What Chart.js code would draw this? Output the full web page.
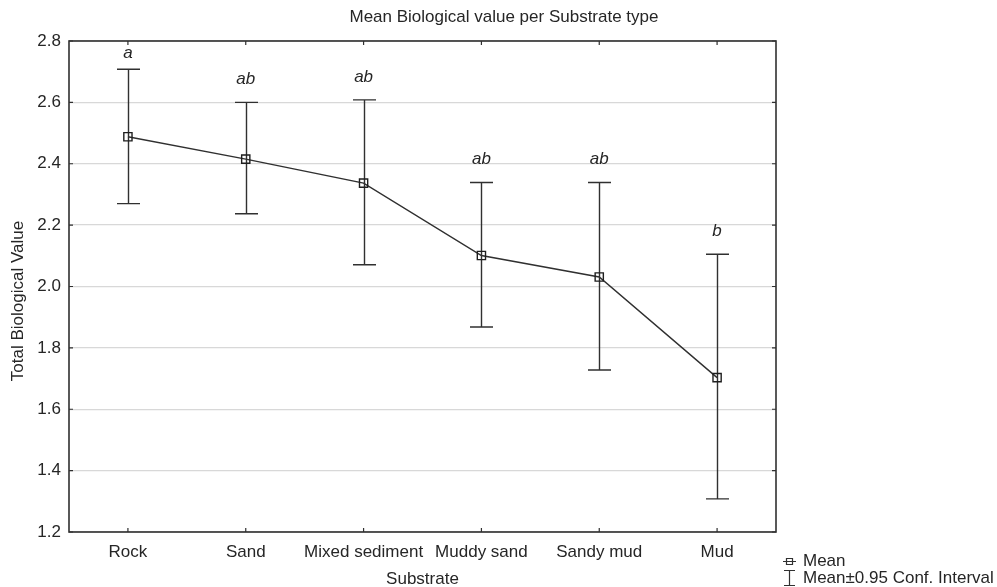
<!DOCTYPE html>
<html>
<head>
<meta charset="utf-8">
<script src="https://cdn.jsdelivr.net/npm/chart.js@4"></script>
<style>
  html, body { margin: 0; padding: 0; background: #fff; }
  #wrap { width: 997px; height: 587px; position: relative; }
</style>
</head>
<body>
<div id="wrap"><canvas id="c" width="997" height="587"></canvas></div>
<script>
const categories = ["Rock", "Sand", "Mixed sediment", "Muddy sand", "Sandy mud", "Mud"];
const meanValues = [2.488, 2.415, 2.337, 2.101, 2.031, 1.703];
const ciLower = [2.270, 2.237, 2.071, 1.868, 1.728, 1.308];
const ciUpper = [2.708, 2.600, 2.608, 2.339, 2.339, 2.105];
const groupLetters = ["a", "ab", "ab", "ab", "ab", "b"];
const yTicks = [1.2, 1.4, 1.6, 1.8, 2.0, 2.2, 2.4, 2.6, 2.8];

const chartTitle = "Mean Biological value per Substrate type";
const xTitle = "Substrate";
const yTitle = "Total Biological Value";
const legendItems = ["Mean", "Mean\u00B10.95 Conf. Interval"];

const FONT = "'Liberation Sans', Arial, sans-serif";
const INK = "#262626";
const FRAME = "#303030";

const decorPlugin = {
  id: 'decor',
  beforeDatasetsDraw(chart) {
    const ctx = chart.ctx;
    const xs = chart.scales.x, ys = chart.scales.y;
    ctx.save();
    ctx.strokeStyle = FRAME;
    ctx.lineWidth = 1.4;
    for (let i = 0; i < categories.length; i++) {
      const x = Math.round(xs.getPixelForValue(i)) + 0.5;
      const yl = ys.getPixelForValue(ciLower[i]);
      const yu = ys.getPixelForValue(ciUpper[i]);
      ctx.beginPath();
      ctx.moveTo(x, yl); ctx.lineTo(x, yu);
      ctx.moveTo(x - 11.5, yu); ctx.lineTo(x + 11.5, yu);
      ctx.moveTo(x - 11.5, yl); ctx.lineTo(x + 11.5, yl);
      ctx.stroke();
    }
    ctx.restore();
  },
  afterDraw(chart) {
    const ctx = chart.ctx, a = chart.chartArea;
    const xs = chart.scales.x, ys = chart.scales.y;
    ctx.save();
    // frame
    ctx.strokeStyle = FRAME;
    ctx.lineWidth = 1.6;
    ctx.strokeRect(a.left, a.top, a.right - a.left, a.bottom - a.top);
    // inner ticks
    ctx.lineWidth = 1.2;
    ctx.beginPath();
    yTicks.forEach(v => {
      const y = ys.getPixelForValue(v);
      ctx.moveTo(a.left, y); ctx.lineTo(a.left + 4, y);
      ctx.moveTo(a.right, y); ctx.lineTo(a.right - 4, y);
    });
    for (let i = 0; i < categories.length; i++) {
      const x = xs.getPixelForValue(i);
      ctx.moveTo(x, a.bottom); ctx.lineTo(x, a.bottom - 4);
      ctx.moveTo(x, a.top); ctx.lineTo(x, a.top + 4);
    }
    ctx.stroke();

    // group letters
    ctx.fillStyle = INK;
    ctx.font = "italic 17px " + FONT;
    ctx.textAlign = "center";
    ctx.textBaseline = "alphabetic";
    for (let i = 0; i < categories.length; i++) {
      const x = xs.getPixelForValue(i);
      const yu = ys.getPixelForValue(ciUpper[i]);
      const y = Math.max(yu - 18, a.top + 17);
      ctx.fillText(groupLetters[i], x, y);
    }

    // titles
    ctx.font = "17px " + FONT;
    ctx.textBaseline = "middle";
    ctx.fillText(chartTitle, 504, 17);
    ctx.fillText(xTitle, (a.left + a.right) / 2, 579);
    ctx.save();
    ctx.translate(18, 301);
    ctx.rotate(-Math.PI / 2);
    ctx.fillText(yTitle, 0, 0);
    ctx.restore();

    // legend
    ctx.textAlign = "left";
    ctx.font = "17px " + FONT;
    ctx.fillText(legendItems[0], 803, 561);
    ctx.fillText(legendItems[1], 803, 578);
    ctx.strokeStyle = FRAME;
    ctx.lineWidth = 1.2;
    ctx.beginPath();
    ctx.rect(786.5, 558.5, 6, 6);
    ctx.moveTo(783, 561.5); ctx.lineTo(796, 561.5);
    ctx.moveTo(784, 570.5); ctx.lineTo(795, 570.5);
    ctx.moveTo(789.5, 570.5); ctx.lineTo(789.5, 585.5);
    ctx.moveTo(784, 585.5); ctx.lineTo(795, 585.5);
    ctx.stroke();
    ctx.restore();
  }
};

new Chart(document.getElementById('c'), {
  type: 'line',
  data: {
    labels: categories,
    datasets: [{
      label: 'Mean',
      data: meanValues,
      borderColor: FRAME,
      borderWidth: 1.4,
      tension: 0,
      fill: false,
      pointStyle: 'rect',
      pointRadius: 5.8,
      pointHoverRadius: 5.8,
      pointBorderWidth: 1.4,
      pointBorderColor: "#1e1e1e",
      pointBackgroundColor: "rgba(255,255,255,0)"
    }]
  },
  options: {
    responsive: false,
    animation: false,
    events: [],
    layout: { padding: { left: 0, right: 221, top: 41, bottom: 0 } },
    plugins: {
      legend: { display: false },
      title: { display: false },
      tooltip: { enabled: false }
    },
    scales: {
      x: {
        type: 'category',
        offset: true,
        grid: { display: false, drawTicks: false },
        border: { display: false },
        ticks: { color: INK, font: { family: FONT, size: 17 }, padding: 10, maxRotation: 0, autoSkip: false },
        afterFit(s) { s.height = 55; }
      },
      y: {
        min: 1.2, max: 2.8,
        grid: { color: "#d8d8d8", lineWidth: 1.3, drawTicks: false },
        border: { display: false },
        afterBuildTicks(s) { s.ticks = yTicks.map(v => ({ value: v })); },
        ticks: {
          color: INK, font: { family: FONT, size: 17 }, padding: 8,
          callback: v => Number(v).toFixed(1)
        },
        afterFit(s) { s.width = 69; }
      }
    }
  },
  plugins: [decorPlugin]
});
</script>
</body>
</html>
